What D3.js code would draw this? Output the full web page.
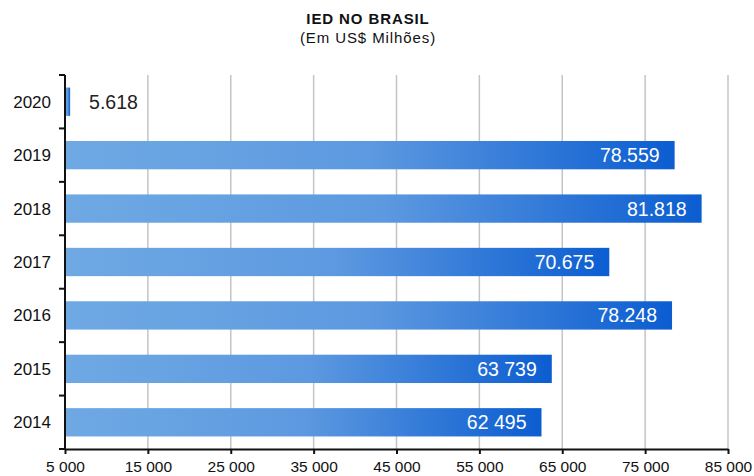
<!DOCTYPE html>
<html>
<head>
<meta charset="utf-8">
<script src="https://cdn.jsdelivr.net/npm/d3@7"></script>
<style>
  body { margin: 0; background: #fff; }
  svg { display: block; font-family: "Liberation Sans", Arial, sans-serif; }
</style>
</head>
<body>
<svg id="chart" width="754" height="476"></svg>
<script>
const years = ["2020", "2019", "2018", "2017", "2016", "2015", "2014"];
const values = [5618, 78559, 81818, 70675, 78248, 63739, 62495];
const valueLabels = ["5.618", "78.559", "81.818", "70.675", "78.248", "63 739", "62 495"];
const tickValues = [5000, 15000, 25000, 35000, 45000, 55000, 65000, 75000, 85000];
const tickLabels = ["5 000", "15 000", "25 000", "35 000", "45 000", "55 000", "65 000", "75 000", "85 000"];
const title = "IED NO BRASIL";
const subtitle = "(Em US$ Milhões)";

const svg = d3.select("#chart");
const mLeft = 65, mRight = 728, mTop = 75, mBottom = 449;

const x = d3.scaleLinear().domain([5000, 85000]).range([mLeft, mRight]);
const y = d3.scaleBand().domain(years).range([mTop, mBottom]).paddingInner(0.47).paddingOuter(0.235);
const yBound = d3.scaleBand().domain(years).range([mTop, mBottom]);

const defs = svg.append("defs");
const grad = defs.append("linearGradient").attr("id", "barGrad")
  .attr("x1", "0%").attr("x2", "100%").attr("y1", "0%").attr("y2", "0%");
grad.append("stop").attr("offset", "0%").attr("stop-color", "#6fa9e4");
grad.append("stop").attr("offset", "50%").attr("stop-color", "#5d99e0");
grad.append("stop").attr("offset", "100%").attr("stop-color", "#0b5dd1");

// title
svg.append("text").attr("x", 368).attr("y", 24).attr("text-anchor", "middle")
  .attr("font-size", 15).attr("font-weight", "bold").attr("fill", "#111")
  .attr("letter-spacing", 0.9).text(title);
svg.append("text").attr("x", 368).attr("y", 43).attr("text-anchor", "middle")
  .attr("font-size", 15).attr("fill", "#111").attr("letter-spacing", 0.9).text(subtitle);

// gridlines
svg.append("g").selectAll("line").data(tickValues.slice(1)).join("line")
  .attr("x1", d => x(d)).attr("x2", d => x(d))
  .attr("y1", mTop).attr("y2", mBottom)
  .attr("stroke", "#c4c4c4").attr("stroke-width", 1.5);

// bars
svg.append("g").selectAll("rect").data(years).join("rect")
  .attr("x", x(5000))
  .attr("y", d => y(d))
  .attr("width", (d, i) => x(values[i]) - x(5000))
  .attr("height", y.bandwidth())
  .attr("fill", "url(#barGrad)");

// value labels
svg.append("g").selectAll("text").data(years).join("text")
  .attr("x", (d, i) => values[i] < 20000 ? x(values[i]) + 19 : x(values[i]) - 15)
  .attr("y", d => y(d) + y.bandwidth() / 2 + 7)
  .attr("text-anchor", (d, i) => values[i] < 20000 ? "start" : "end")
  .attr("font-size", 19.5)
  .attr("fill", (d, i) => values[i] < 20000 ? "#222" : "#fff")
  .text((d, i) => valueLabels[i]);

// x axis
const xAxis = d3.axisBottom(x).tickValues(tickValues).tickFormat((d, i) => tickLabels[i])
  .tickSizeInner(5).tickSizeOuter(0).tickPadding(5);
const gx = svg.append("g").attr("transform", `translate(0,${mBottom})`).call(xAxis);
gx.select(".domain").attr("stroke", "#111").attr("stroke-width", 2);
gx.selectAll(".tick line").attr("stroke", "#111").attr("stroke-width", 2);
gx.selectAll(".tick text").attr("font-size", 15.5).attr("fill", "#111")
  .attr("font-family", "'Liberation Sans', Arial, sans-serif").attr("dy", "0.85em");

// y axis
svg.append("line").attr("x1", mLeft).attr("x2", mLeft).attr("y1", mTop).attr("y2", mBottom + 1)
  .attr("stroke", "#111").attr("stroke-width", 2);
const bounds = years.map(d => yBound(d)).concat([mBottom]);
svg.append("g").selectAll("line").data(bounds).join("line")
  .attr("x1", mLeft - 6).attr("x2", mLeft).attr("y1", d => d).attr("y2", d => d)
  .attr("stroke", "#111").attr("stroke-width", 2);
svg.append("g").selectAll("text").data(years).join("text")
  .attr("x", 51).attr("y", d => yBound(d) + yBound.bandwidth() / 2 + 6)
  .attr("text-anchor", "end").attr("font-size", 17).attr("fill", "#111")
  .text(d => d);
</script>
</body>
</html>
